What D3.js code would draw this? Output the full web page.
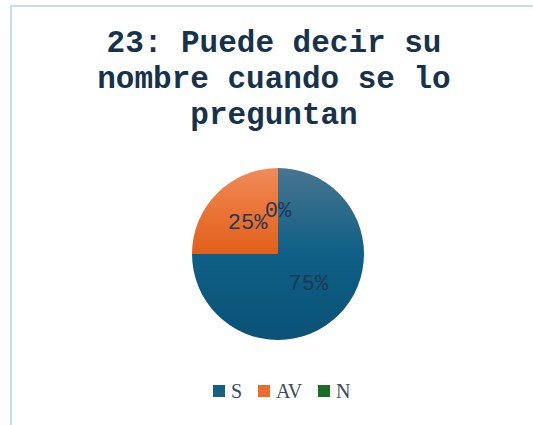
<!DOCTYPE html>
<html>
<head>
<meta charset="utf-8">
<script src="https://cdn.jsdelivr.net/npm/d3@7"></script>
<style>
  html, body { margin: 0; padding: 0; background: #ffffff; }
  svg { display: block; }
</style>
</head>
<body>
<svg id="chart" width="533" height="425"></svg>
<script>
// Answer categories and their shares (percent)
const categories = ["S", "AV", "N"];
const values = [75, 25, 0];
const labels = ["75%", "25%", "0%"];
const titleLines = ["23: Puede decir su", "nombre cuando se lo", "preguntan"];

const colors = {
  S:  { top: "#48758f", mid: "#0f5f86", bottom: "#0a5276", swatch: "#165e83" },
  AV: { top: "#f08c5a", mid: "#ea7436", bottom: "#e15f1b", swatch: "#ea6d2b" },
  N:  { top: "#3f8a3f", mid: "#217021", bottom: "#1a5f1a", swatch: "#1e6b26" }
};

const monoFont = "'Courier New', Courier, 'Nimbus Mono PS', 'Nimbus Mono L', FreeMono, 'Liberation Mono', monospace";

const svg = d3.select("#chart");
const W = 533, H = 425;

// Outer frame of the chart area
svg.append("rect")
  .attr("x", 11).attr("y", 6)
  .attr("width", W + 10).attr("height", H + 10)
  .attr("fill", "#ffffff")
  .attr("stroke", "#c9dcef")
  .attr("stroke-width", 2);

// Title
const title = svg.append("text")
  .attr("text-anchor", "middle")
  .attr("font-family", monoFont)
  .attr("font-weight", "bold")
  .attr("font-size", 31)
  .attr("fill", "#17324d");
titleLines.forEach((t, i) => {
  title.append("tspan")
    .attr("x", 274)
    .attr("y", 52 + i * 36)
    .text(t);
});

// Vertical gradients for each slice
const defs = svg.append("defs");
categories.forEach(c => {
  const g = defs.append("linearGradient")
    .attr("id", "grad-" + c)
    .attr("x1", 0).attr("y1", 0).attr("x2", 0).attr("y2", 1);
  g.append("stop").attr("offset", "0%").attr("stop-color", colors[c].top);
  g.append("stop").attr("offset", "50%").attr("stop-color", colors[c].mid);
  g.append("stop").attr("offset", "100%").attr("stop-color", colors[c].bottom);
});

const cx = 278, cy = 254, r = 86;
const data = categories.map((c, i) => ({ cat: c, value: values[i], label: labels[i] }));

const pie = d3.pie().sort(null).value(d => d.value);
const arc = d3.arc().innerRadius(0).outerRadius(r);

const g = svg.append("g").attr("transform", `translate(${cx},${cy})`);
const arcs = pie(data);

g.selectAll("path.slice")
  .data(arcs.filter(d => d.data.value > 0))
  .join("path")
  .attr("class", "slice")
  .attr("d", arc)
  .attr("fill", d => `url(#grad-${d.data.cat})`);

// Percentage labels at slice centroids
g.selectAll("text.pct")
  .data(arcs)
  .join("text")
  .attr("class", "pct")
  .attr("transform", d => {
    const [x, y] = arc.centroid(d);
    return `translate(${x},${y})`;
  })
  .attr("text-anchor", "middle")
  .attr("dominant-baseline", "central")
  .attr("font-family", monoFont)
  .attr("font-size", 22)
  .attr("fill", "#1e3956")
  .text(d => d.data.label);

// Legend
const legend = svg.append("g").attr("transform", "translate(0,391)");
const legendX = [213, 258, 318];
categories.forEach((c, i) => {
  const item = legend.append("g").attr("transform", `translate(${legendX[i]},0)`);
  item.append("rect")
    .attr("x", 0).attr("y", -6)
    .attr("width", 12).attr("height", 12)
    .attr("fill", colors[c].swatch);
  item.append("text")
    .attr("x", 18).attr("y", 0)
    .attr("dominant-baseline", "central")
    .attr("font-family", "'Liberation Serif', 'Times New Roman', serif")
    .attr("font-size", 20)
    .attr("fill", "#3a4a5c")
    .text(c);
});
</script>
</body>
</html>
